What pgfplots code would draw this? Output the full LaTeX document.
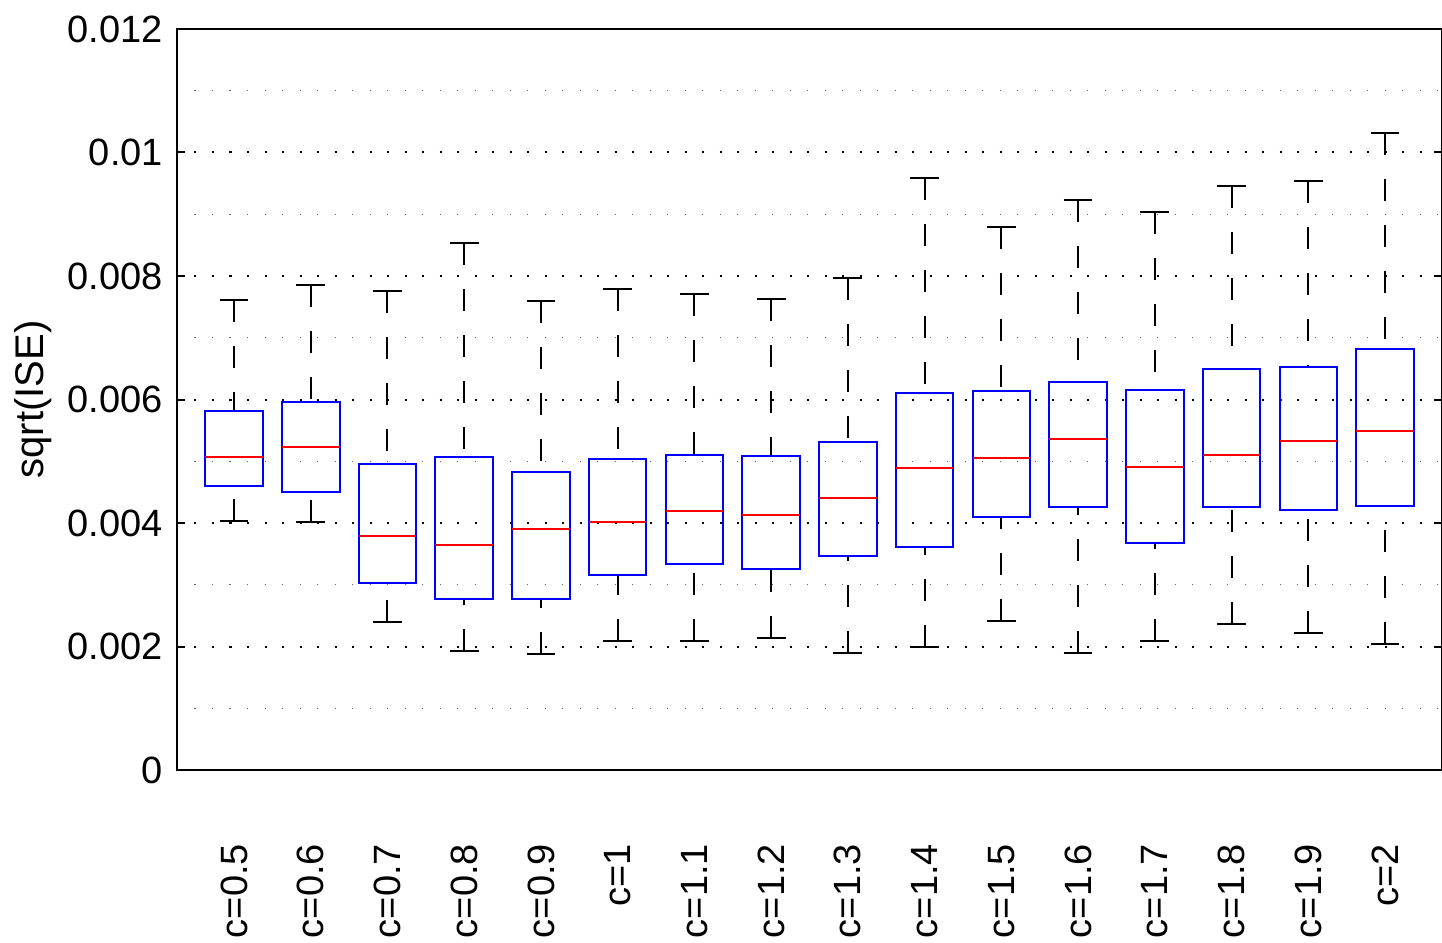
\documentclass[border=0pt]{standalone}
\usepackage{fontspec}
\setmainfont{Liberation Sans}
\usepackage{pgfplots}
\pgfplotsset{compat=1.18}
\usepgfplotslibrary{statistics}

\pgfplotsset{
  boxplot/draw direction=y,
  boxplot/draw/lower whisker/.code={%
    \draw[black,line width=0.5pt,dash pattern=on 5.6pt off 5.9pt]
      (boxplot cs:\pgfplotsboxplotvalue{lower whisker},0) -- (boxplot cs:\pgfplotsboxplotvalue{lower quartile},0);
    \draw[black,line width=0.5pt]
      (boxplot whisker cs:\pgfplotsboxplotvalue{lower whisker},0) -- (boxplot whisker cs:\pgfplotsboxplotvalue{lower whisker},1);
  },
  boxplot/draw/upper whisker/.code={%
    \draw[black,line width=0.5pt,dash pattern=on 5.6pt off 5.9pt]
      (boxplot cs:\pgfplotsboxplotvalue{upper whisker},0) -- (boxplot cs:\pgfplotsboxplotvalue{upper quartile},0);
    \draw[black,line width=0.5pt]
      (boxplot whisker cs:\pgfplotsboxplotvalue{upper whisker},0) -- (boxplot whisker cs:\pgfplotsboxplotvalue{upper whisker},1);
  },
  boxplot/every box/.style={draw=blue,line width=0.5pt,fill=none},
  boxplot/every median/.style={draw=red,line width=0.5pt},
  boxplot/box extend=0.75,
  boxplot/whisker extend=0.375,
}
% values in units of 0.001
\newcommand{\bx}[6]{\addplot[boxplot prepared={draw position=#1,lower whisker=#2,lower quartile=#3,median=#4,upper quartile=#5,upper whisker=#6}] coordinates {};}

\begin{document}
\begin{tikzpicture}
\begin{axis}[
  scale only axis, width=316.25pt, height=185.25pt,
  xmin=0.257, xmax=16.743, ymin=0, ymax=12,
  xtick={1,...,16},
  xticklabels={c=0.5,c=0.6,c=0.7,c=0.8,c=0.9,c=1,c=1.1,c=1.2,c=1.3,c=1.4,c=1.5,c=1.6,c=1.7,c=1.8,c=1.9,c=2},
  x tick style={draw=none},
  ytick={0,2,4,6,8,10,12},
  yticklabels={0,0.002,0.004,0.006,0.008,0.01,0.012},
  minor ytick={1,3,5,7,9,11},
  scaled y ticks=false,
  ymajorgrids, yminorgrids,
  major grid style={black,line width=0.5pt,dash pattern=on 0.5pt off 3.875pt},
  minor grid style={black!60,line width=0.3pt,dash pattern=on 0.3pt off 4.075pt},
  tick align=inside, major tick length=2pt, minor tick length=0pt,
  y tick style={black,line width=0.5pt},
  axis line style={line width=0.5pt},
  /pgf/number format/assume math mode=true,
  tick label style={font=\fontsize{9.5}{11}\selectfont},
  xticklabel style={rotate=90,anchor=east},
  xticklabel shift=15pt,
  ylabel={sqrt(ISE)},
  ylabel style={font=\fontsize{9.5}{11}\selectfont},
  every axis y label/.style={at={(axis description cs:-0.1138,0.5)},rotate=90,anchor=center},
]
\bx{1}{4.032}{4.599}{5.069}{5.814}{7.61}
\bx{2}{4.016}{4.502}{5.23}{5.96}{7.854}
\bx{3}{2.397}{3.028}{3.789}{4.955}{7.757}
\bx{4}{1.927}{2.769}{3.644}{5.069}{8.534}
\bx{5}{1.878}{2.769}{3.903}{4.826}{7.595}
\bx{6}{2.089}{3.158}{4.016}{5.036}{7.789}
\bx{7}{2.089}{3.336}{4.194}{5.101}{7.708}
\bx{8}{2.138}{3.255}{4.13}{5.085}{7.627}
\bx{9}{1.895}{3.466}{4.405}{5.312}{7.967}
\bx{10}{1.992}{3.611}{4.891}{6.105}{9.587}
\bx{11}{2.413}{4.097}{5.053}{6.138}{8.793}
\bx{12}{1.895}{4.259}{5.36}{6.283}{9.23}
\bx{13}{2.089}{3.676}{4.907}{6.154}{9.036}
\bx{14}{2.364}{4.259}{5.101}{6.494}{9.457}
\bx{15}{2.219}{4.21}{5.328}{6.526}{9.538}
\bx{16}{2.04}{4.275}{5.49}{6.818}{10.315}
\end{axis}
\pgfresetboundingbox
\path (-44.25pt,-43pt) rectangle (316.25pt,192.5pt);
\end{tikzpicture}
\end{document}
